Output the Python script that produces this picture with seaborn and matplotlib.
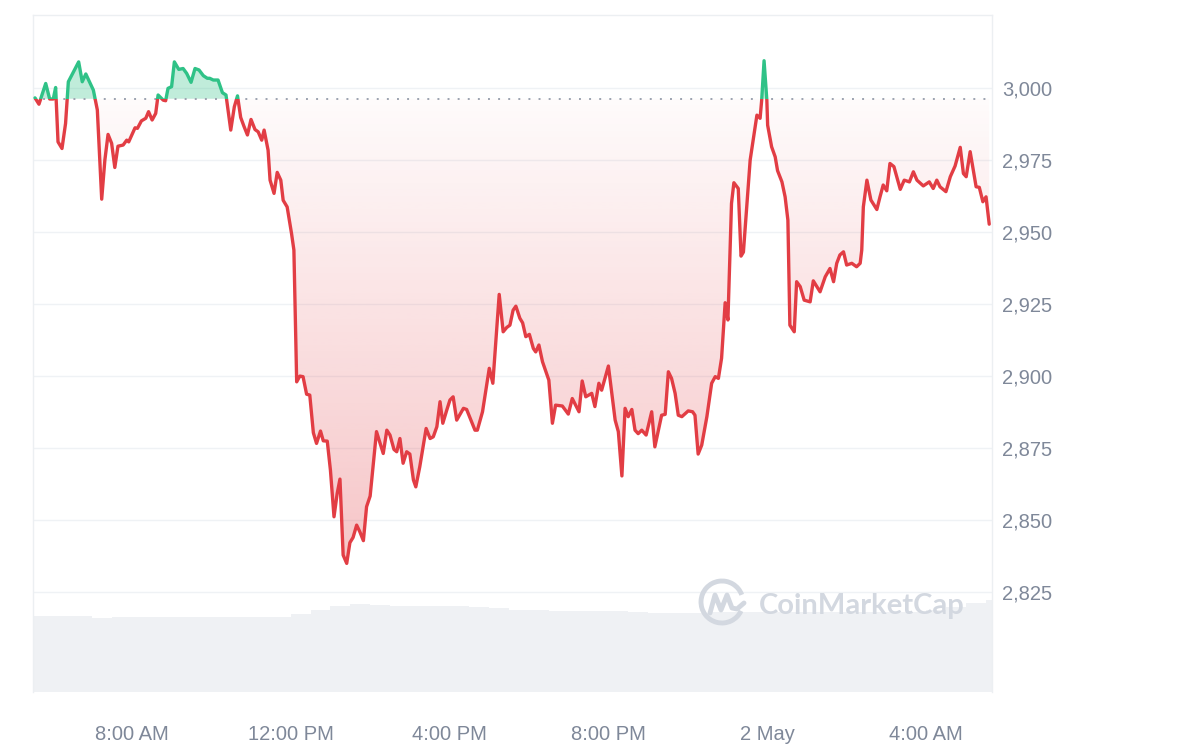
import numpy as np
import pandas as pd
import matplotlib
matplotlib.use("Agg")
import matplotlib.pyplot as plt
import seaborn as sns
from matplotlib.patches import Rectangle, Arc
from matplotlib.colors import to_rgb

# price in USD, time as hours after 1 May 00:00 (24 = 2 May 00:00)
hours = [5.56, 5.66, 5.83, 5.93, 6.02, 6.08, 6.14, 6.24, 6.33, 6.40,
         6.66, 6.75, 6.84, 7.03, 7.13, 7.24, 7.32, 7.40, 7.49, 7.57,
         7.65, 7.78, 7.87, 7.92, 8.08, 8.14, 8.24, 8.35, 8.42, 8.51,
         8.60, 8.66, 8.79, 8.85, 8.91, 9.00, 9.07, 9.18, 9.29, 9.38,
         9.49, 9.59, 9.69, 9.80, 9.90, 9.96, 10.05, 10.17, 10.28, 10.37,
         10.49, 10.58, 10.66, 10.74, 10.82, 10.91, 11.00, 11.10, 11.18, 11.27,
         11.33, 11.43, 11.48, 11.58, 11.66, 11.75, 11.81, 11.91, 12.02, 12.08,
         12.15, 12.23, 12.31, 12.40, 12.48, 12.57, 12.65, 12.75, 12.82, 12.92,
         13.00, 13.09, 13.17, 13.24, 13.32, 13.41, 13.49, 13.57, 13.66, 13.74,
         13.83, 13.91, 14.00, 14.16, 14.33, 14.42, 14.50, 14.60, 14.67, 14.75,
         14.83, 14.92, 15.00, 15.09, 15.15, 15.25, 15.41, 15.51, 15.59, 15.68,
         15.76, 15.83, 15.93, 16.01, 16.09, 16.18, 16.35, 16.43, 16.64, 16.70,
         16.83, 17.00, 17.09, 17.25, 17.35, 17.44, 17.52, 17.60, 17.67, 17.77,
         17.84, 17.92, 18.01, 18.11, 18.17, 18.25, 18.34, 18.50, 18.59, 18.67,
         18.84, 18.99, 19.09, 19.26, 19.34, 19.43, 19.58, 19.66, 19.76, 19.83,
         20.00, 20.17, 20.25, 20.34, 20.42, 20.50, 20.59, 20.67, 20.75, 20.84,
         20.95, 21.09, 21.17, 21.34, 21.43, 21.51, 21.59, 21.68, 21.76, 21.85,
         22.01, 22.12, 22.18, 22.26, 22.35, 22.48, 22.60, 22.69, 22.77, 22.85,
         22.94, 23.01, 23.06, 23.10, 23.16, 23.27, 23.34, 23.40, 23.57, 23.74,
         23.82, 23.86, 23.92, 23.99, 24.01, 24.11, 24.20, 24.26, 24.37, 24.45,
         24.52, 24.57, 24.68, 24.74, 24.83, 24.93, 25.08, 25.16, 25.33, 25.46,
         25.58, 25.67, 25.75, 25.83, 25.92, 26.00, 26.13, 26.25, 26.34, 26.38,
         26.42, 26.51, 26.61, 26.76, 26.84, 26.92, 27.01, 27.09, 27.19, 27.35,
         27.45, 27.58, 27.68, 27.77, 27.93, 28.08, 28.18, 28.27, 28.35, 28.50,
         28.61, 28.73, 28.86, 28.94, 29.01, 29.11, 29.26, 29.34, 29.43, 29.51,
         29.59]
price = [2996.6, 2994.4, 3001.6, 2996.2, 2996.2, 3000.2, 2981.3, 2979.0, 2987.7, 3002.2,
         3009.1, 3002.2, 3004.9, 2999.3, 2992.4, 2961.4, 2975.0, 2983.9, 2980.8, 2972.4,
         2979.8, 2980.2, 2981.9, 2981.3, 2986.2, 2986.0, 2988.6, 2989.5, 2991.8, 2988.9,
         2991.2, 2997.6, 2995.8, 2995.6, 2999.9, 3000.5, 3009.1, 3006.5, 3006.8, 3005.1,
         3002.0, 3006.8, 3006.3, 3004.3, 3003.4, 3003.4, 3002.8, 3002.8, 2998.4, 2997.6,
         2985.4, 2993.5, 2997.3, 2989.8, 2986.8, 2983.7, 2989.1, 2985.6, 2984.8, 2981.9,
         2985.4, 2978.4, 2968.0, 2963.4, 2970.7, 2968.0, 2961.0, 2958.7, 2949.5, 2943.7,
         2897.9, 2899.9, 2899.7, 2893.6, 2893.3, 2880.2, 2876.5, 2880.8, 2877.4, 2877.3,
         2867.2, 2851.0, 2859.1, 2864.1, 2837.7, 2834.8, 2842.0, 2843.8, 2848.1, 2845.8,
         2842.7, 2854.5, 2858.2, 2880.6, 2873.0, 2881.1, 2879.4, 2874.4, 2873.6, 2878.2,
         2869.6, 2873.6, 2872.8, 2863.8, 2861.4, 2868.4, 2881.7, 2878.2, 2878.8, 2882.3,
         2891.0, 2883.5, 2888.1, 2891.6, 2892.7, 2884.6, 2888.7, 2888.3, 2881.1, 2881.1,
         2887.5, 2902.6, 2897.4, 2928.3, 2915.3, 2916.8, 2917.6, 2922.8, 2924.2, 2920.0,
         2918.4, 2913.6, 2914.4, 2909.5, 2908.3, 2910.7, 2904.9, 2898.5, 2883.5, 2889.8,
         2889.5, 2886.7, 2892.1, 2887.5, 2898.2, 2892.7, 2893.9, 2889.3, 2897.4, 2895.0,
         2903.4, 2884.6, 2880.6, 2865.2, 2888.7, 2885.8, 2888.3, 2881.1, 2879.9, 2881.1,
         2879.4, 2887.5, 2875.3, 2886.3, 2886.6, 2901.4, 2899.1, 2893.9, 2886.3, 2885.8,
         2887.8, 2887.5, 2886.3, 2872.8, 2875.9, 2885.8, 2897.4, 2899.7, 2899.1, 2906.1,
         2925.4, 2919.4, 2942.5, 2959.9, 2967.1, 2965.1, 2941.6, 2943.0, 2975.0, 2990.6,
         2989.5, 2995.8, 3009.5, 2995.8, 2987.1, 2979.6, 2976.1, 2971.3, 2967.4, 2962.2,
         2954.1, 2917.6, 2915.3, 2932.7, 2931.0, 2926.3, 2925.7, 2933.0, 2929.2, 2934.4,
         2937.3, 2932.7, 2939.1, 2942.0, 2943.1, 2938.5, 2939.1, 2937.9, 2939.1, 2943.7,
         2958.7, 2968.0, 2961.1, 2957.8, 2962.2, 2966.3, 2964.3, 2973.8, 2972.7, 2964.8,
         2968.0, 2967.4, 2970.9, 2968.0, 2966.0, 2967.4, 2965.1, 2968.0, 2965.7, 2964.0,
         2969.2, 2972.9, 2979.4, 2970.3, 2969.2, 2977.9, 2965.7, 2965.5, 2960.5, 2962.2,
         2952.7]
open_price = 2996.3

# rolling 24h volume (bn USD), half-hour bins starting 5:30 AM
vol_hours = np.arange(5.75, 30.0, 0.5)
volume = [15.2, 15.3, 15.3, 14.9, 15.1, 15.1, 15.1, 15.1, 15.1, 15.1,
          15.1, 15.1, 15.1, 15.6, 16.4, 17.3, 17.6, 17.4, 17.3, 17.3,
          17.2, 17.2, 17.1, 16.8, 16.5, 16.4, 16.3, 16.2, 16.2, 16.2,
          16.1, 15.9, 15.9, 15.9, 16.1, 16.1, 16.1, 16.1, 16.1, 16.1,
          16.1, 16.1, 16.1, 16.1, 16.1, 16.4, 17.0, 17.8, 18.4]

tick_hours = [8, 12, 16, 20, 24, 28]
tick_labels = ["8:00 AM", "12:00 PM", "4:00 PM", "8:00 PM", "2 May", "4:00 AM"]
price_ticks = [2825, 2850, 2875, 2900, 2925, 2950, 2975, 3000]

RED = "#e23d44"
GREEN = "#2fc287"
GREY_TXT = "#7f8899"
GRID = "#eff2f5"

sns.set_theme(style="white")
plt.rcParams['font.family'] = ['Liberation Sans', 'DejaVu Sans']

df = pd.DataFrame({'hour': hours, 'price': price})

fig = plt.figure(figsize=(11.88, 7.56), dpi=100)
rect = [33 / 1188, 64 / 756, 959 / 1188, 677 / 756]
x0, x1 = 5.51, 29.66
y0, y1 = 2790.1, 3025.4

# volume underneath
vax = fig.add_axes(rect, zorder=0)
vax.bar(vol_hours, volume, width=0.5, color="#eff1f4", linewidth=0)
vax.set_xlim(x0, x1)
vax.set_ylim(0, 135.4)
vax.axis('off')

ax = fig.add_axes(rect, zorder=1)
ax.patch.set_alpha(0)
ax.set_xlim(x0, x1)
ax.set_ylim(y0, y1)
ax.grid(axis='y', color=GRID, lw=1)
ax.grid(axis='x', visible=False)
ax.set_axisbelow(True)

# red gradient fill below the open price
poly = ax.fill_between(df.hour, df.price, open_price, facecolor='none', edgecolor='none')
n = 256
grad = np.zeros((n, 1, 4))
grad[..., :3] = to_rgb(RED)
grad[:, 0, 3] = np.linspace(0.30, 0.02, n)
im = ax.imshow(grad, extent=[x0, x1, min(price), open_price], origin='lower',
               aspect='auto', zorder=1, interpolation='bilinear')
im.set_clip_path(poly.get_paths()[0], transform=ax.transData)

# green fill above the open price
ax.fill_between(df.hour, df.price, open_price, where=df.price >= open_price,
                interpolate=True, color=GREEN, alpha=0.3, lw=0, zorder=1)

ax.axhline(open_price, color="#9ca3b0", lw=1.4, ls=(0, (1, 4.2)), zorder=2)

sns.lineplot(data=df, x='hour', y='price', color=RED, lw=2.4, ax=ax, zorder=3)
red_line = ax.lines[-1]
red_line.set_solid_joinstyle('round')
red_line.set_clip_path(Rectangle((x0, y0), x1 - x0, open_price - y0, transform=ax.transData))
sns.lineplot(data=df, x='hour', y='price', color=GREEN, lw=2.4, ax=ax, zorder=3)
green_line = ax.lines[-1]
green_line.set_solid_joinstyle('round')
green_line.set_clip_path(Rectangle((x0, open_price), x1 - x0, y1 - open_price, transform=ax.transData))

ax.set_xlim(x0, x1)
ax.set_ylim(y0, y1)
ax.set_xlabel('')
ax.set_ylabel('')

ax.yaxis.tick_right()
ax.set_yticks(price_ticks)
ax.set_yticklabels([f"{t:,}" for t in price_ticks])
ax.set_xticks(tick_hours)
ax.set_xticklabels(tick_labels)
ax.tick_params(axis='y', length=0, pad=7, labelsize=14.5, colors=GREY_TXT)
ax.tick_params(axis='x', length=0, pad=24, labelsize=14.5, colors=GREY_TXT)

for s in ['top', 'left', 'right']:
    ax.spines[s].set_color("#eceff2")
    ax.spines[s].set_linewidth(1)
ax.spines['bottom'].set_visible(False)

# watermark
WM = "#d3d8e0"
wax = fig.add_axes([0, 0, 1, 1], zorder=2)
wax.set_xlim(0, 1188)
wax.set_ylim(756, 0)
wax.axis('off')
wax.add_patch(Arc((722, 602), 42, 42, theta1=25, theta2=340, lw=3.5, color=WM))
wax.plot([710, 715, 721, 727, 732, 737, 744], [613, 595, 610, 595, 608, 609, 603],
         color=WM, lw=3.5, solid_capstyle='round', solid_joinstyle='round')
wax.text(759, 614, "CoinMarketCap", fontsize=21, fontweight='bold', color=WM,
         va='baseline', ha='left', family=['Lato', 'DejaVu Sans'])

fig.savefig('out.png', dpi=100)
